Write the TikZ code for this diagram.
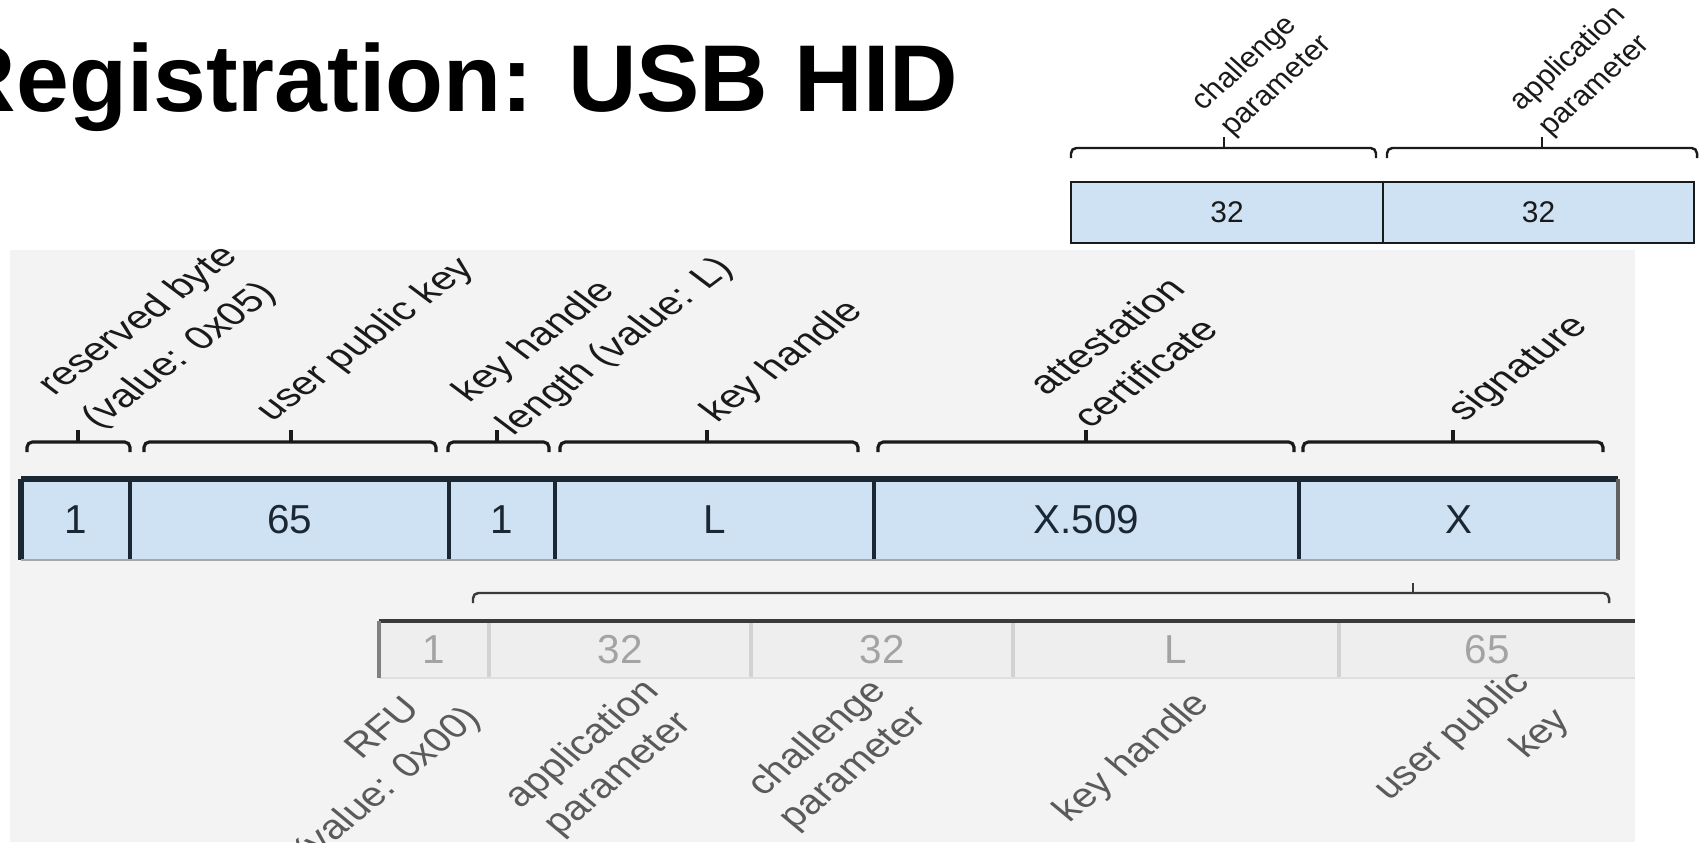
\documentclass[tikz,border=0pt]{standalone}
\usepackage{fontspec}
\setmainfont{Liberation Sans}
\usetikzlibrary{positioning,calc}
\definecolor{ink}{HTML}{1A1A1A}
\definecolor{navy}{HTML}{1B2733}
\definecolor{cellblue}{HTML}{CFE2F3}
\definecolor{panel}{HTML}{F3F3F3}
\definecolor{fadefill}{HTML}{EEEEEE}
\definecolor{fadeline}{HTML}{D2D2D2}
\definecolor{fadetext}{HTML}{A3A3A3}
\definecolor{fadelabel}{HTML}{5A5A5A}
\definecolor{edge}{HTML}{3A3A3A}
\tikzset{
  every node/.style={text=ink},
  title/.style={font=\fontsize{27}{32}\selectfont\bfseries, inner sep=0pt, text=black},
  field/.style={fill=cellblue, inner sep=0pt, outer sep=0pt, minimum height=0.81cm, font=\fontsize{11.5}{14}\selectfont, text=navy},
  smallfield/.style={field, draw=ink, line width=0.8pt, minimum height=0.61cm, font=\fontsize{8.5}{10}\selectfont, text=ink},
  fadefield/.style={field, fill=fadefill, minimum height=0.57cm, text=fadetext},
  brace/.style={draw=ink, line width=0.9pt, rounded corners=1.5pt},
  lblbase/.style={anchor=south west, align=left, inner sep=1pt},
  toplbl/.style={lblbase, xscale=1.33, rotate=45, font=\fontsize{9.2}{13.3}\selectfont},
  smalllbl/.style={lblbase, xscale=1.11, rotate=45, font=\fontsize{8}{10.4}\selectfont},
  lowlbl/.style={xscale=1.2, rotate=45, align=center, inner sep=1pt, font=\fontsize{9.8}{12}\selectfont, text=fadelabel},
}

\begin{document}
\begin{tikzpicture}
  \useasboundingbox (0,0) rectangle (17.06,-8.42);
  % rows: y positions
  \def\ytop{-2.125}  \def\yrow{-5.195}  \def\ylow{-6.495}

  % grey panel behind the response
  \fill[panel] (0.10,-2.50) rectangle (16.35,-8.42);

  \node[title, anchor=base east] (title) at (9.59,-1.11) {Registration: USB HID};

  % --- request: challenge + application --------------------------------
  \node[smallfield, minimum width=3.12cm] (tchal) at (12.27,\ytop) {32};
  \node[smallfield, minimum width=3.11cm] (tapp) at (15.385,\ytop) {32};
  \foreach \a/\b/\m/\n in {10.71/13.76/12.24/tchaltip, 13.87/16.97/15.42/tapptip} {
    \draw[brace, line width=0.7pt] (\a,-1.58) |- (\b,-1.48) -- (\b,-1.58);
    \draw[brace, line width=0.7pt] (\m,-1.48) -- (\m,-1.37) coordinate (\n);
  }
  \node[smalllbl] (ltchal) at ($(tchaltip)+(0.13,-0.10)$) {challenge\\parameter};
  \node[smalllbl] (ltapp) at ($(tapptip)+(0.13,-0.10)$) {application\\parameter};

  % --- response message ------------------------------------------------
  \foreach \n/\a/\b/\t in {res/0.21/1.30/1, pk/1.30/4.49/65, khl/4.49/5.55/1, kh/5.55/8.74/L, cert/8.74/12.99/X.509, sig/12.99/16.18/X} {
    \pgfmathsetmacro{\w}{\b-\a}
    \node[field, minimum width=\w cm] (\n) at ({(\a+\b)/2},\yrow) {\t};
  }
  \draw[navy, line width=1.5pt] (res.north west) -- (sig.north east);
  \draw[navy, line width=1.7pt] (res.north west) -- (res.south west);
  \foreach \n in {res,pk,khl,kh,cert}
    \draw[navy, line width=1.2pt] (\n.north east) -- (\n.south east);
  \draw[edge!80, line width=1.2pt] (sig.north east) -- (sig.south east);
  \draw[fadeline!80!black, line width=0.5pt] (res.south west) -- (sig.south east);

  % braces over the fields
  \foreach \a/\b/\m/\n in {0.27/1.30/0.78/tres, 1.44/4.36/2.91/tpk, 4.48/5.49/4.97/tkhl,
      5.60/8.58/7.07/tkh, 8.78/12.94/10.86/tcert, 13.03/16.03/14.53/tsig} {
    \draw[brace] (\a,-4.52) |- (\b,-4.42) -- (\b,-4.52);
    \draw[brace] (\m,-4.42) -- (\m,-4.30) coordinate (\n);
  }
  \foreach \n/\dx/\dy/\t in {tres/0.27/-0.10/{reserved byte\\(value: 0x05)}, tpk/-0.12/-0.03/{user public key},
      tkhl/0.23/-0.17/{key handle\\length (value: L)}, tkh/0.17/-0.04/{key handle},
      tcert/0.05/-0.06/{attestation\\certificate}, tsig/0.18/-0.03/{signature}} {
    \node[toplbl] (l\n) at ($(\n)+(\dx,\dy)$) {\t};
  }

  % --- signed data (faded) ---------------------------------------------
  \foreach \n/\a/\b/\t in {lrfu/3.79/4.89/1, lapp/4.89/7.51/32, lchal/7.51/10.13/32, lkh/10.13/13.39/L, lupk/13.39/16.35/65} {
    \pgfmathsetmacro{\w}{\b-\a}
    \node[fadefield, minimum width=\w cm] (\n) at ({(\a+\b)/2},\ylow) {\t};
  }
  \foreach \n in {lrfu,lapp,lchal,lkh}
    \draw[fadeline, line width=1pt] (\n.north east) -- (\n.south east);
  \draw[fadeline!70, line width=0.8pt] (lrfu.south west) -- (lupk.south east);
  \draw[edge, line width=1.2pt] (lrfu.north west) -- (lupk.north east);
  \draw[gray, line width=1.2pt] (lrfu.north west) -- (lrfu.south west);

  \draw[brace, draw=edge, line width=0.7pt] (4.73,-6.03) |- (16.09,-5.93) -- (16.09,-6.03);
  \draw[brace, draw=edge, line width=0.7pt] (14.13,-5.93) -- (14.13,-5.83) coordinate (tsign);

  \node[lowlbl, anchor=south east, align=right] (brfu) at (4.95,-7.25) {RFU\hspace*{0.85em}\\(value: 0x00)};
  \foreach \n/\x/\y/\t in {app/6.01/-7.60/{application\\parameter},
      chal/8.36/-7.54/{challenge\\parameter}, kh/11.33/-7.58/{key handle}} {
    \node[lowlbl] (b\n) at (\x,\y) {\t};
  }
  \node[lowlbl, anchor=north west, align=left, font=\fontsize{9.8}{14.5}\selectfont] (bupk) at (13.61,-7.84) {user public\\\hspace*{3.2em}key};
\end{tikzpicture}
\end{document}
